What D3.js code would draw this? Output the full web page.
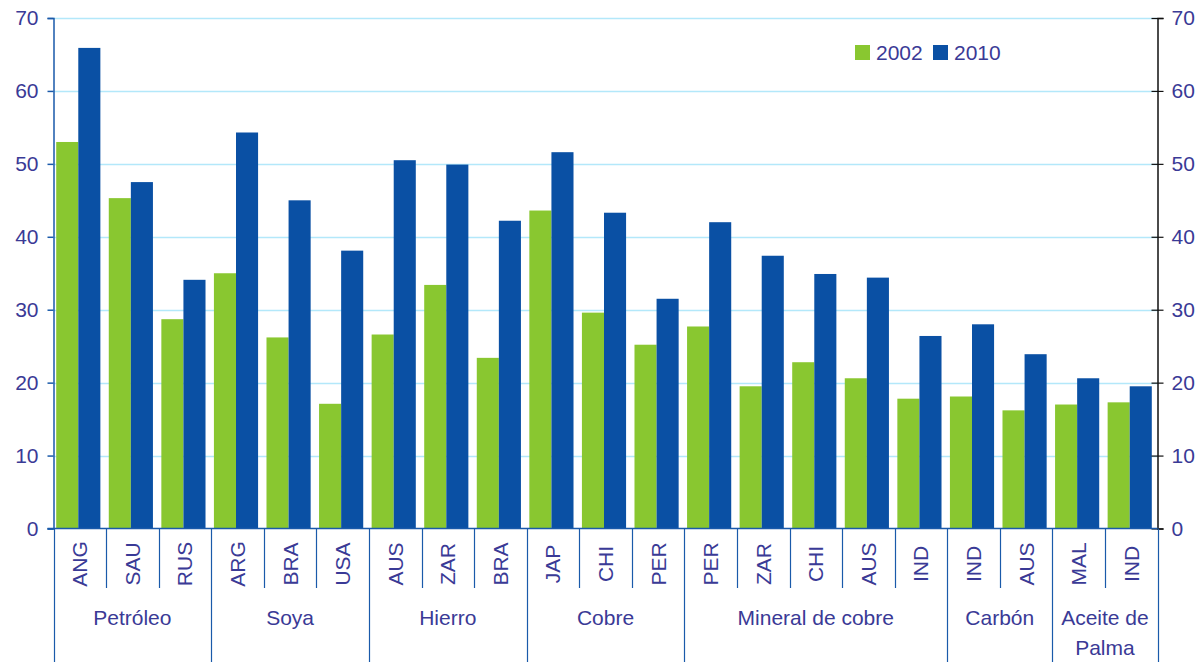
<!DOCTYPE html>
<html>
<head>
<meta charset="utf-8">
<script src="https://cdn.jsdelivr.net/npm/d3@7"></script>
<style>
  body { margin: 0; background: #fff; }
  text { font-family: "Liberation Sans", Arial, sans-serif; fill: #3a3a96; }
</style>
</head>
<body>
<script>
// values
const categories = ['ANG', 'SAU', 'RUS', 'ARG', 'BRA', 'USA', 'AUS', 'ZAR', 'BRA', 'JAP', 'CHI',
    'PER', 'PER', 'ZAR', 'CHI', 'AUS', 'IND', 'IND', 'AUS', 'MAL', 'IND'];
const groups = ['Petróleo', 'Soya', 'Hierro', 'Cobre', 'Mineral de cobre', 'Carbón', 'Aceite de Palma'];
const groupSizes = [3, 3, 3, 3, 5, 2, 2];
const v2002 = [53.0, 45.3, 28.7, 35.0, 26.2, 17.1, 26.6, 33.4, 23.4, 43.6, 29.6,
    25.2, 27.7, 19.5, 22.8, 20.6, 17.8, 18.1, 16.2, 17.0, 17.3];
const v2010 = [65.9, 47.5, 34.1, 54.3, 45.0, 38.1, 50.5, 49.9, 42.2, 51.6, 43.3,
    31.5, 42.0, 37.4, 34.9, 34.4, 26.4, 28.0, 23.9, 20.6, 19.5];
const years = ['2002', '2010'];
const yTicks = [0, 10, 20, 30, 40, 50, 60, 70];

const colors = {'2002': '#89c730', '2010': '#0a50a4'};
const width = 1198, height = 662;
const plotLeft = 53.5, plotRight = 1157.5, plotTop = 18, plotBottom = 528.5;
const fontSize = '21px';

let svg = d3.select('body').append('svg')
    .attr('width', width)
    .attr('height', height);

let x = d3.scaleBand()
    .domain(d3.range(categories.length))
    .range([plotLeft, plotRight])
    .paddingInner(0.16)
    .paddingOuter(0.08);
let xs = d3.scaleBand().domain(years).range([0, x.bandwidth()]);
let y = d3.scaleLinear().domain([0, 70]).range([plotBottom, plotTop]);

// gridlines
svg.append('g').selectAll('line')
    .data(yTicks.filter(d => d > 0))
    .enter().append('line')
    .attr('x1', plotLeft).attr('x2', plotRight)
    .attr('y1', d => Math.round(y(d)) + 0.5).attr('y2', d => Math.round(y(d)) + 0.5)
    .attr('stroke', '#b3e8fa')
    .attr('stroke-width', 1.5);

// bars
let rows = categories.map((c, i) => ({i: i, '2002': v2002[i], '2010': v2010[i]}));
svg.append('g').selectAll('g')
    .data(rows)
    .enter().append('g')
    .attr('transform', d => 'translate(' + (x(d.i) - 1.5) + ',0)')
    .selectAll('rect')
    .data(d => years.map(k => ({k: k, v: d[k]})))
    .enter().append('rect')
    .attr('x', d => xs(d.k))
    .attr('y', d => y(d.v))
    .attr('width', xs.bandwidth())
    .attr('height', d => plotBottom - y(d.v))
    .attr('fill', d => colors[d.k]);

// left axis
let yLeft = svg.append('g')
    .attr('transform', 'translate(' + plotLeft + ',0)')
    .call(d3.axisLeft(y).tickValues(yTicks).tickSize(6).tickPadding(9));
yLeft.select('.domain').attr('stroke', '#1a5aaa').attr('stroke-width', 1.5);
yLeft.selectAll('.tick line').attr('stroke', '#1a5aaa').attr('stroke-width', 1.5);
yLeft.selectAll('text').style('font-size', fontSize).attr('fill', '#3a3a96');

// right axis
let yRight = svg.append('g')
    .attr('transform', 'translate(' + plotRight + ',0)')
    .call(d3.axisRight(y).tickValues(yTicks).tickSize(6).tickPadding(8));
yRight.select('.domain').attr('stroke', '#111').attr('stroke-width', 1.5);
yRight.selectAll('.tick line').attr('stroke', '#111').attr('x1', -6).attr('stroke-width', 1.2);
yRight.selectAll('text').style('font-size', fontSize).attr('fill', '#3a3a96');

// baseline
svg.append('line')
    .attr('x1', plotLeft - 6).attr('x2', plotRight)
    .attr('y1', plotBottom).attr('y2', plotBottom)
    .attr('stroke', '#1a5aaa').attr('stroke-width', 1.5);

// category separators and labels
let step = x.step();
let starts = [0];
groupSizes.forEach(n => starts.push(starts[starts.length - 1] + n));
let sep = svg.append('g');
d3.range(categories.length + 1).forEach(i => {
    let isGroup = starts.indexOf(i) >= 0;
    let xx = Math.round(plotLeft + i * step) + 0.5;
    sep.append('line')
        .attr('x1', xx).attr('x2', xx)
        .attr('y1', plotBottom).attr('y2', isGroup ? height : 588)
        .attr('stroke', '#1a5aaa')
        .attr('stroke-width', 1.2);
});

svg.append('g').selectAll('text')
    .data(categories)
    .enter().append('text')
    .attr('transform', (d, i) => 'translate(' + (plotLeft + (i + 0.5) * step + 7.5) + ',564) rotate(-90)')
    .attr('text-anchor', 'middle')
    .style('font-size', fontSize)
    .text(d => d);

// group labels
groups.forEach((g, gi) => {
    let cx = plotLeft + (starts[gi] + groupSizes[gi] / 2) * step;
    let lines = g === 'Aceite de Palma' ? ['Aceite de', 'Palma'] : [g];
    lines.forEach((t, li) => {
        svg.append('text')
            .attr('x', cx)
            .attr('y', 625 + li * 30)
            .attr('text-anchor', 'middle')
            .style('font-size', fontSize)
            .text(t);
    });
});

// legend
let legend = svg.append('g').attr('transform', 'translate(855,45)');
let lx = [0, 78];
years.forEach((k, i) => {
    legend.append('rect')
        .attr('x', lx[i]).attr('y', 0)
        .attr('width', 15).attr('height', 15)
        .attr('fill', colors[k]);
    legend.append('text')
        .attr('x', lx[i] + 21).attr('y', 15)
        .style('font-size', fontSize)
        .text(k);
});
</script>
</body>
</html>
